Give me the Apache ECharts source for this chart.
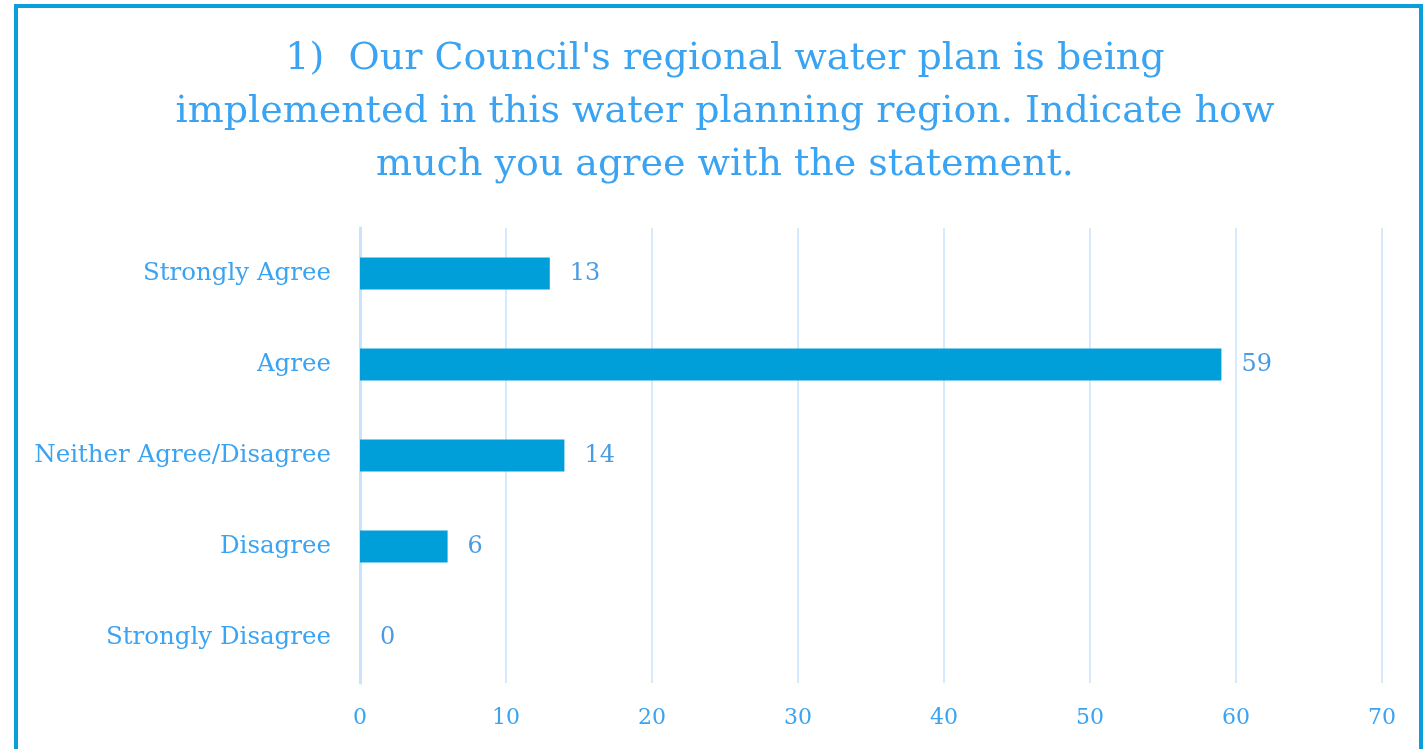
<!DOCTYPE html>
<html><head><meta charset="utf-8">
<script src="https://cdn.jsdelivr.net/npm/echarts@6/dist/echarts.min.js"></script>
<style>
html,body{margin:0;padding:0;width:1427px;height:749px;overflow:hidden;background:#fff;}
#frame{position:absolute;left:14px;top:4px;width:1401px;height:800px;border:4px solid #0a9fdb;box-sizing:content-box;}
#chart{position:absolute;left:0;top:0;width:1427px;height:749px;}
</style></head>
<body>
<div id="frame"></div>
<div id="chart"></div>
<script>
const categories = ['Strongly Agree','Agree','Neither Agree/Disagree','Disagree','Strongly Disagree'];
const values = [13, 59, 14, 6, 0];
const xTicks = [0,10,20,30,40,50,60,70];
const titleText = "1)  Our Council's regional water plan is being\nimplemented in this water planning region. Indicate how\nmuch you agree with the statement.";

const txt = '#3aa3f2';
const font = "'DejaVu Serif', serif";
const chart = echarts.init(document.getElementById('chart'));
chart.setOption({
  animation:false,
  title:{
    text:titleText, left:720, top:28, textAlign:'center',
    textStyle:{color:txt, fontFamily:font, fontSize:38, fontWeight:'normal', lineHeight:53}
  },
  grid:{left:360, right:45, top:228, bottom:66},
  xAxis:{
    type:'value', min:xTicks[0], max:xTicks[xTicks.length-1], interval:10,
    axisLine:{show:false}, axisTick:{show:false},
    splitLine:{lineStyle:{color:'#d5eafc', width:2}},
    axisLabel:{color:txt, fontFamily:font, fontSize:22, margin:24}
  },
  yAxis:{
    type:'category', data:categories, inverse:true,
    axisLine:{lineStyle:{color:'#c8e3fb', width:3}}, axisTick:{show:false},
    axisLabel:{color:txt, fontFamily:font, fontSize:24.5, margin:29}
  },
  series:[{
    type:'bar', data:values, barWidth:32,
    itemStyle:{color:'#009fd9'},
    label:{show:true, position:'right', distance:20, color:'#4a9be3', fontFamily:font, fontSize:24}
  }]
});
</script>
</body></html>
